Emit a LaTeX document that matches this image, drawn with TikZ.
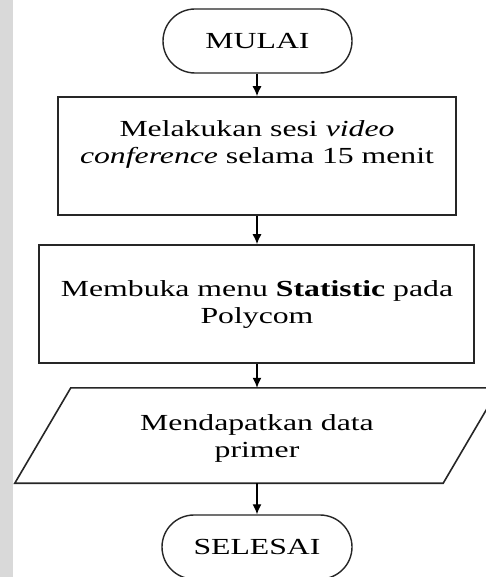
\documentclass[tikz,border=0pt]{standalone}
\usepackage{fontspec}
\setmainfont[FakeStretch=1.38]{Liberation Serif}
\usetikzlibrary{arrows.meta}
\tikzset{
  terminal/.style={draw=black!85, line width=1.4pt, rounded corners=32pt, minimum width=189pt, minimum height=64pt, inner sep=0pt},
  procbox/.style={draw=black!85, line width=1.6pt, inner sep=0pt},
  txt/.style={align=center, inner sep=0pt, font=\fontsize{23}{27}\selectfont},
  flow/.style={line width=1.3pt, -{Latex[length=10pt,width=9pt]}}
}
\begin{document}
\begin{tikzpicture}[x=1pt,y=-1pt]
\useasboundingbox (0,0) rectangle (486,577);
\clip (0,0) rectangle (486,577);
\fill[white] (0,0) rectangle (486,577);
\fill[black!15] (0,0) rectangle (13,577);
% nodes
\node[terminal, font=\fontsize{23}{27}\selectfont] (mulai) at (257.5,41) {MULAI};
\node[procbox, minimum width=398pt, minimum height=118pt] (b1) at (257,156) {};
\node[txt] (t1) at (257,144) {Melakukan sesi \textit{video}\\\textit{conference} selama 15 menit};
\node[procbox, minimum width=435pt, minimum height=118pt] (b2) at (256.5,304) {};
\node[txt] (t2) at (257,304) {Membuka menu \textbf{Statistic} pada\\Polycom};
\node[minimum width=428pt, minimum height=95pt, inner sep=0pt] (p) at (257,435.5) {};
\draw[draw=black!85, line width=1.6pt] ([xshift=28pt]p.north west) -- ([xshift=28pt]p.north east) -- ([xshift=-28pt]p.south east) -- ([xshift=-28pt]p.south west) -- cycle;
\node[txt] (t3) at (257,438) {Mendapatkan data\\primer};
\node[terminal, font=\fontsize{23}{27}\selectfont, minimum width=190pt] (selesai) at (257,547) {SELESAI};
% connectors
\draw[flow] (mulai.south -| b1.north) -- (b1.north);
\draw[flow] (b1.south) -- (b2.north -| b1.south);
\draw[flow] (b2.south -| p.north) -- (p.north);
\draw[flow] (p.south) -- (selesai.north -| p.south);
\end{tikzpicture}
\end{document}
